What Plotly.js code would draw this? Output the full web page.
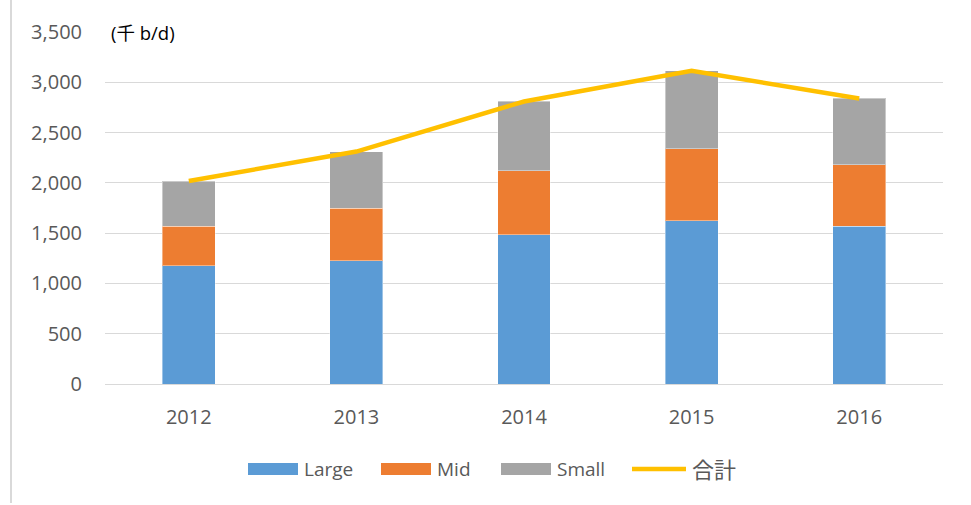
<!DOCTYPE html>
<html>
<head>
<meta charset="utf-8">
<script src="https://cdn.plot.ly/plotly-3.0.1.min.js"></script>
<style>
  html, body { margin: 0; padding: 0; background: #fff; }
  #chart { width: 971px; height: 505px; }
</style>
</head>
<body>
<div id="chart"></div>
<script>
// values (thousand b/d)
const years = ['2012', '2013', '2014', '2015', '2016'];
const large = [1178, 1228, 1484, 1624, 1570];
const mid = [392, 521, 637, 717, 611];
const small = [448, 562, 688, 773, 658];
const total = [2018, 2311, 2809, 3114, 2839];
const yTicks = [0, 500, 1000, 1500, 2000, 2500, 3000, 3500];

const FONT = 'Open Sans, Noto Sans CJK JP, sans-serif';
const GREY_TEXT = '#595959';

const colors = {
    large: '#5B9BD5',
    mid: '#ED7D31',
    small: '#A5A5A5',
    total: '#FFC000'
};

// plot area in pixels, used to place the hand-made legend
const plot = { left: 105, right: 943, top: 32, bottom: 384 };
const px = x => (x - plot.left) / (plot.right - plot.left);
const py = y => (plot.bottom - y) / (plot.bottom - plot.top);

function barTrace(name, values, color) {
    return {
        type: 'bar',
        name: name,
        x: years,
        y: values,
        marker: { color: color, line: { color: 'rgba(255,255,255,0.4)', width: 1 } },
        hoverinfo: 'name+y'
    };
}

const traces = [
    barTrace('Large', large, colors.large),
    barTrace('Mid', mid, colors.mid),
    barTrace('Small', small, colors.small),
    {
        type: 'scatter',
        mode: 'lines',
        name: '合計',
        x: years,
        y: total,
        line: { color: colors.total, width: 4.5 }
    }
];

// legend drawn by hand so the swatches match the wide Excel style
const legendItems = [
    { label: 'Large', color: colors.large, kind: 'box', x0: 248, x1: 298, size: 19 },
    { label: 'Mid', color: colors.mid, kind: 'box', x0: 381, x1: 431, size: 19 },
    { label: 'Small', color: colors.small, kind: 'box', x0: 501, x1: 551, size: 19 },
    { label: '合計', color: colors.total, kind: 'line', x0: 632, x1: 686, size: 22 }
];
const legendY = 469;

const shapes = [
    // thin frame line at the far left
    {
        type: 'line', xref: 'paper', yref: 'paper',
        x0: px(11), x1: px(11), y0: py(0), y1: py(503),
        line: { color: '#d9d9d9', width: 2 }
    }
];
const annotations = [
    {
        text: '(千 b/d)', xref: 'paper', yref: 'paper',
        x: px(109), y: py(33), xanchor: 'left', yanchor: 'middle',
        showarrow: false, font: { family: FONT, size: 18.5, color: '#000' }
    }
];

legendItems.forEach(item => {
    if (item.kind === 'box') {
        shapes.push({
            type: 'rect', xref: 'paper', yref: 'paper',
            x0: px(item.x0), x1: px(item.x1), y0: py(legendY - 6), y1: py(legendY + 6),
            fillcolor: item.color, line: { width: 0 }
        });
    } else {
        shapes.push({
            type: 'line', xref: 'paper', yref: 'paper',
            x0: px(item.x0), x1: px(item.x1), y0: py(legendY), y1: py(legendY),
            line: { color: item.color, width: 4.5 }
        });
    }
    annotations.push({
        text: item.label, xref: 'paper', yref: 'paper',
        x: px(item.x1 + 4), y: py(legendY), xanchor: 'left', yanchor: 'middle',
        showarrow: false, font: { family: FONT, size: item.size, color: GREY_TEXT }
    });
});

const layout = {
    width: 971,
    height: 505,
    barmode: 'stack',
    bargap: 0.684,
    showlegend: false,
    paper_bgcolor: '#fff',
    plot_bgcolor: '#fff',
    font: { family: FONT, color: GREY_TEXT, size: 20 },
    margin: { l: plot.left, r: 971 - plot.right, t: plot.top, b: 505 - plot.bottom },
    xaxis: {
        type: 'category',
        showgrid: false,
        showline: false,
        ticks: '',
        ticklabelstandoff: 19,
        tickfont: { family: FONT, size: 20, color: GREY_TEXT }
    },
    yaxis: {
        range: [0, 3500],
        tickvals: yTicks,
        tickformat: ',d',
        showgrid: true,
        gridcolor: '#d9d9d9',
        gridwidth: 1,
        zeroline: true,
        zerolinecolor: '#d9d9d9',
        zerolinewidth: 1,
        showline: false,
        ticks: '',
        ticklabelstandoff: 22,
        tickfont: { family: FONT, size: 20, color: GREY_TEXT }
    },
    shapes: shapes,
    annotations: annotations
};

Plotly.newPlot('chart', traces, layout, { displayModeBar: false, staticPlot: true });
</script>
</body>
</html>
